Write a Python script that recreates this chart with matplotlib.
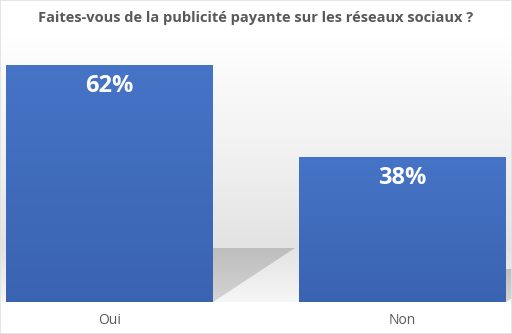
import numpy as np
import matplotlib
matplotlib.use('Agg')
import matplotlib.pyplot as plt
from matplotlib.patches import Polygon, Rectangle
from matplotlib.colors import LinearSegmentedColormap

# Data
categories = ['Oui', 'Non']
values = [62, 38]
labels = ['62%', '38%']
title = 'Faites-vous de la publicité payante sur les réseaux sociaux ?'

bar_width = 0.706
text_gray = '#595959'

fig = plt.figure(figsize=(5.12, 3.34), dpi=100)
fig.patch.set_facecolor('white')
ax = fig.add_axes([0, 0.0958, 1, 0.801])
ax.set_xlim(-0.3737, 1.3737)
ax.set_ylim(0, 70)

# Background gradient: light at the floor, gray band, white at top
bg = LinearSegmentedColormap.from_list(
    'bg', [(0, '#f6f6f6'), (0.2, '#e3e3e3'), (0.55, '#f1f1f1'), (1, '#ffffff')])
grad = np.linspace(0, 1, 256).reshape(-1, 1)
ax.imshow(grad, cmap=bg, aspect='auto', origin='lower',
          extent=[-0.3737, 1.3737, 0, 70], zorder=0)

# Perspective shadows behind each bar
shade = LinearSegmentedColormap.from_list('shade', ['#d4d4d4', '#bdbdbd'])
for i, v in enumerate(values):
    xr = i + bar_width / 2
    poly = Polygon([(xr, 0), (xr, 0.228 * v), (xr + 0.00451 * v, 0.228 * v)],
                   closed=True, facecolor='none', edgecolor='none', zorder=1)
    ax.add_patch(poly)
    im = ax.imshow(grad, cmap=shade, aspect='auto', origin='lower',
                   extent=[xr, xr + 0.00451 * v, 0, 0.228 * v], zorder=1)
    im.set_clip_path(poly)

# Bars with a subtle vertical gradient
bars = ax.bar(range(len(values)), values, width=bar_width, color='#4472c4',
              zorder=2)
bar_cmap = LinearSegmentedColormap.from_list('bar', ['#3a63b2', '#4674c6'])
for b, lab in zip(bars, labels):
    x0 = b.get_x()
    im = ax.imshow(grad, cmap=bar_cmap, aspect='auto', origin='lower',
                   extent=[x0, x0 + b.get_width(), 0, b.get_height()],
                   zorder=3)
    im.set_clip_path(b)
    ax.text(x0 + b.get_width() / 2, b.get_height() - 2.4, lab,
            ha='center', va='top', color='white', fontsize=17,
            fontweight='bold', family='Open Sans', zorder=4)

ax.set_xlim(-0.3737, 1.3737)
ax.set_ylim(0, 70)
for s in ax.spines.values():
    s.set_visible(False)
ax.set_yticks([])
ax.set_xticks(range(len(categories)))
ax.set_xticklabels(categories, color=text_gray, fontsize=10, family='Open Sans')
ax.tick_params(axis='x', length=0, pad=8)

fig.text(0.5, 1 - 18 / 334, title, ha='center', va='center', color=text_gray,
         fontsize=10.5, fontweight='bold', family='Open Sans')

# Thin frame lines at top and bottom
fig.add_artist(Rectangle((0, 0), 1, 1, transform=fig.transFigure,
                         fill=False, edgecolor='#e0e0e0', linewidth=1.2))

fig.savefig('out.png', dpi=100)
